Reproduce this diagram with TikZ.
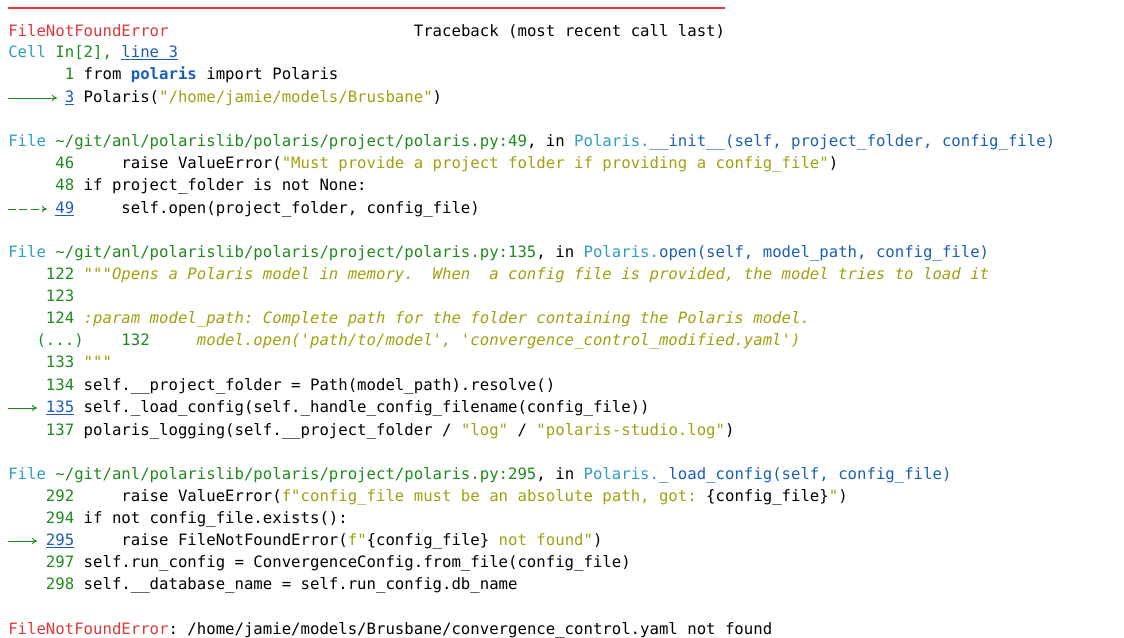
\documentclass[tikz,border=0pt]{standalone}
\usepackage{fontspec}
\usetikzlibrary{arrows.meta}
\setmonofont{DejaVu Sans Mono}[Scale=1]
\definecolor{errred}{HTML}{E0383A}
\definecolor{tbcyan}{HTML}{2A9FBF}
\definecolor{tbgreen}{HTML}{1E8A1E}
\definecolor{tbblue}{HTML}{1A5FB4}
\definecolor{tbolive}{HTML}{A0A010}
\newcommand\cl[1]{\textcolor{tbcyan}{#1}}
\newcommand\gr[1]{\textcolor{tbgreen}{#1}}
\newcommand\bl[1]{\textcolor{tbblue}{#1}}
\newcommand\ol[1]{\textcolor{tbolive}{#1}}
\newcommand\olit[1]{\textcolor{tbolive}{\itshape #1}}
\newcommand\lk[1]{\textcolor{tbblue}{\underline{#1}}}
\newcommand\us{\_}
\begin{document}
\begin{tikzpicture}[x=0.75pt,y=-0.75pt,
  codeline/.style={anchor=base west,inner sep=0pt,font=\ttfamily\fontsize{11.75}{14}\selectfont},
  tbarrow/.style={tbgreen,-{To[length=4pt,width=5pt]},line width=0.7pt}]
\useasboundingbox (0,0) rectangle (1124,637);

\draw[errred,line width=0.8pt] (8,8) -- (725,8);

\begin{scope}[yshift=-1.5pt]
% first frame
\node[codeline] (l1) at (8,34) {\textcolor{errred}{FileNotFoundError}~~~~~~~~~~~~~~~~~~~~~~~~~~Traceback~(most~recent~call~last)};
\node[codeline] (l2) at (8,55) {\cl{Cell~}\gr{In[2], }\lk{line~3}};
\node[codeline] (l3) at (8,77) {~~~~~~\gr{1}~from~\textbf{\bl{polaris}}~import~Polaris};
\node[codeline] (l4) at (8,100) {~~~~~~\lk{3}~Polaris(\ol{"/home/jamie/models/Brusbane"})};
\coordinate (a1s) at (8,96);
\coordinate (a1e) at (57,96);
\draw[tbarrow] (a1s) -- (a1e);

% __init__
\node[codeline] (l5) at (8,144) {\cl{File~}\gr{\textasciitilde/git/anl/polarislib/polaris/project/polaris.py:49}, in~\cl{Polaris.}\bl{\us\us init\us\us(self, project\us folder, config\us file)}};
\node[codeline] (l6) at (8,166) {~~~~~\gr{46}~~~~~raise~ValueError(\ol{"Must~provide~a~project~folder~if~providing~a~config\us file"})};
\node[codeline] (l7) at (8,188) {~~~~~\gr{48}~if~project\us folder~is~not~None:};
\node[codeline] (l8) at (8,211) {~~~~~\lk{49}~~~~~self.open(project\us folder,~config\us file)};
\coordinate (a2s) at (8,207);
\coordinate (a2e) at (47,207);
\draw[tbarrow,dash pattern=on 6pt off 2.5pt] (a2s) -- (a2e);

% open
\node[codeline] (l9) at (8,255) {\cl{File~}\gr{\textasciitilde/git/anl/polarislib/polaris/project/polaris.py:135}, in~\cl{Polaris.}\bl{open(self, model\us path, config\us file)}};
\node[codeline] (l10) at (8,277) {~~~~\gr{122}~\olit{"""Opens~a~Polaris~model~in~memory.~~When~~a~config~file~is~provided,~the~model~tries~to~load~it}};
\node[codeline] (l11) at (8,299) {~~~~\gr{123}};
\node[codeline] (l12) at (8,321) {~~~~\gr{124}~\olit{:param~model\us path:~Complete~path~for~the~folder~containing~the~Polaris~model.}};
\node[codeline] (l13) at (8,343) {~~~\gr{(...)}~~~~\gr{132}~~~~~\olit{model.open('path/to/model',~'convergence\us control\us modified.yaml')}};
\node[codeline] (l14) at (8,365) {~~~~\gr{133}~\olit{"""}};
\node[codeline] (l15) at (8,388) {~~~~\gr{134}~self.\us\us project\us folder~=~Path(model\us path).resolve()};
\node[codeline] (l16) at (8,410) {~~~~\lk{135}~self.\us load\us config(self.\us handle\us config\us filename(config\us file))};
\node[codeline] (l17) at (8,433) {~~~~\gr{137}~polaris\us logging(self.\us\us project\us folder~/~\ol{"log"}~/~\ol{"polaris-studio.log"})};
\coordinate (a3s) at (8,406);
\coordinate (a3e) at (37,406);
\draw[tbarrow] (a3s) -- (a3e);

% _load_config
\node[codeline] (l18) at (8,477) {\cl{File~}\gr{\textasciitilde/git/anl/polarislib/polaris/project/polaris.py:295}, in~\cl{Polaris.}\bl{\us load\us config(self, config\us file)}};
\node[codeline] (l19) at (8,499) {~~~~\gr{292}~~~~~raise~ValueError(\ol{f"config\us file~must~be~an~absolute~path,~got:~}\{config\us file\}\ol{"})};
\node[codeline] (l20) at (8,521) {~~~~\gr{294}~if~not~config\us file.exists():};
\node[codeline] (l21) at (8,543) {~~~~\lk{295}~~~~~raise~FileNotFoundError(\ol{f"}\{config\us file\}\ol{~not~found"})};
\node[codeline] (l22) at (8,565) {~~~~\gr{297}~self.run\us config~=~ConvergenceConfig.from\us file(config\us file)};
\node[codeline] (l23) at (8,587) {~~~~\gr{298}~self.\us\us database\us name~=~self.run\us config.db\us name};
\coordinate (a4s) at (8,539);
\coordinate (a4e) at (37,539);
\draw[tbarrow] (a4s) -- (a4e);

\node[codeline] (l24) at (8,632) {\textcolor{errred}{FileNotFoundError}:~/home/jamie/models/Brusbane/convergence\us control.yaml~not~found};
\end{scope}
\end{tikzpicture}
\end{document}
